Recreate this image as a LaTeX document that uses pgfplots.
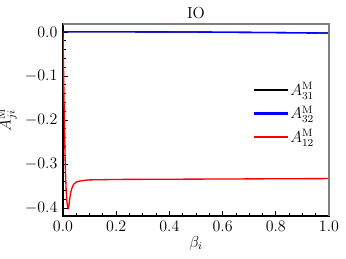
\documentclass[border=0pt,12pt]{standalone}
\usepackage{pgfplots}
\pgfplotsset{compat=1.18}
\begin{document}
\begin{tikzpicture}
\begin{axis}[
  name=ax,
  scale only axis,
  width=199.5pt, height=144pt,
  xmin=0, xmax=1, ymin=-0.418, ymax=0.018,
  xtick={0,0.2,0.4,0.6,0.8,1.0},
  ytick={-0.4,-0.3,-0.2,-0.1,0},
  xticklabel style={/pgf/number format/.cd,fixed,fixed zerofill,precision=1},
  yticklabel style={/pgf/number format/.cd,fixed,fixed zerofill,precision=1},
  minor x tick num=3, minor y tick num=4,
  xtick pos=bottom, ytick pos=left,
  tick align=inside,
  major tick length=3.5pt, minor tick length=2pt,
  tick style={black, line width=0.6pt},
  axis line style={line width=0.8pt},
  title={IO},
  title style={yshift=-6pt},
  xlabel={$\beta_i$},
  xlabel style={yshift=5pt},
  ylabel={$A^{\rm M}_{ji}$},
  ylabel style={yshift=-2pt},
  legend style={draw=none, fill=none, at={(1,0.725)}, anchor=north east, xshift=-6pt, legend cell align=left, row sep=2pt},
  legend image code/.code={\fill[#1] (0pt,-0.42pt) rectangle (24pt,0.42pt);},
]
\addplot[black, line width=1pt] coordinates {(0,0.0005) (0.2,0.0003) (0.4,0) (0.6,-0.0007) (0.8,-0.0015) (1.0,-0.0025)};
\addlegendentry{$A^{\rm M}_{31}$}
\addplot[blue, line width=1pt] coordinates {(0,0.0005) (0.2,0.0003) (0.4,0) (0.6,-0.0007) (0.8,-0.0015) (1.0,-0.0025)};
\addlegendentry{$A^{\rm M}_{32}$}
\addplot[red, line width=1pt] coordinates {(0,0) (0.002,-0.08) (0.004,-0.16) (0.006,-0.23) (0.008,-0.29) (0.010,-0.33) (0.012,-0.36) (0.014,-0.38) (0.016,-0.392) (0.018,-0.398) (0.020,-0.400) (0.022,-0.395) (0.024,-0.385) (0.027,-0.372) (0.030,-0.362) (0.035,-0.352) (0.04,-0.346) (0.05,-0.341) (0.06,-0.339) (0.08,-0.337) (0.1,-0.336) (0.2,-0.335) (0.4,-0.3345) (0.6,-0.334) (0.8,-0.3335) (1.0,-0.333)};
\addlegendentry{$A^{\rm M}_{12}$}
\end{axis}
\draw[gray, line width=0.8pt] (ax.south east) -- (ax.north east) -- (ax.north west);
\pgfresetboundingbox
\path[use as bounding box] ([shift={(-47.25pt,-32.25pt)}]ax.south west) rectangle +(259.5pt,194.25pt);
\end{tikzpicture}
\end{document}
